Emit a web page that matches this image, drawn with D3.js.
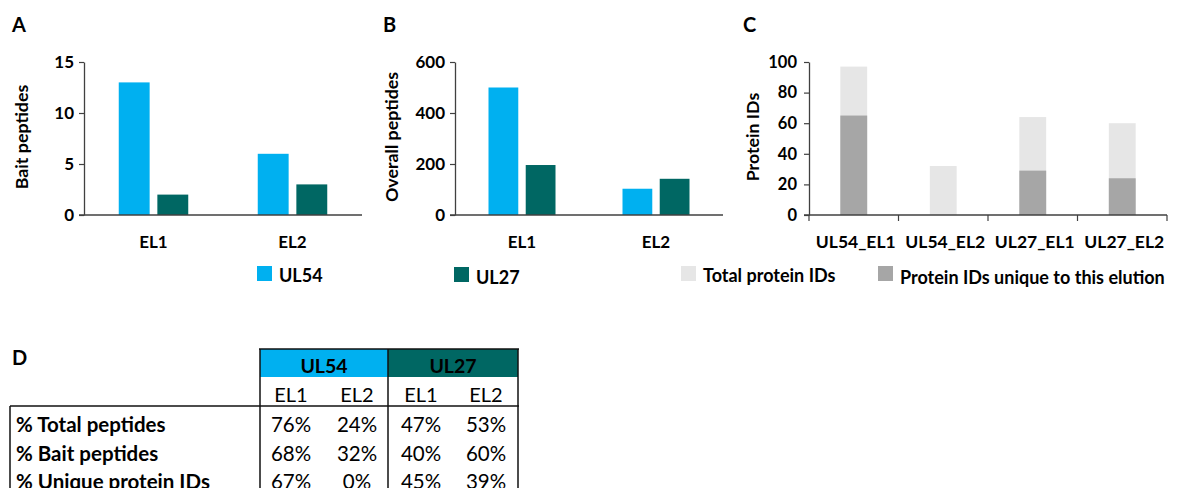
<!DOCTYPE html>
<html><head><meta charset="utf-8">
<script src="https://cdn.jsdelivr.net/npm/d3@7"></script>
<style>
html,body{margin:0;padding:0;background:#fff;}
svg text{font-family:Lato,"Open Sans",sans-serif;}
</style></head>
<body><svg id="chart" width="1178" height="488"></svg>
<script>
// ---- data ----
const elutions = ["EL1", "EL2"];
const baits = ["UL54", "UL27"];
const baitPeptidesUL54 = [13, 6];
const baitPeptidesUL27 = [2, 3];
const overallPeptidesUL54 = [500, 103];
const overallPeptidesUL27 = [196, 142];
const proteinCategories = ["UL54_EL1", "UL54_EL2", "UL27_EL1", "UL27_EL2"];
const totalProteinIDs = [97, 32, 64, 60];
const uniqueProteinIDs = [65, 0, 29, 24];
const ticksA = [0, 5, 10, 15];
const ticksB = [0, 200, 400, 600];
const ticksC = [0, 20, 40, 60, 80, 100];
const tableRows = ["% Total peptides", "% Bait peptides", "% Unique protein IDs"];
const tableUL54EL1 = ["76%", "68%", "67%"];
const tableUL54EL2 = ["24%", "32%", "0%"];
const tableUL27EL1 = ["47%", "40%", "45%"];
const tableUL27EL2 = ["53%", "60%", "39%"];

const colUL54 = "#00B0F0", colUL27 = "#006763";
const colTotal = "#E6E6E6", colUnique = "#A6A6A6";
const axisCol = "#404040";

const svg = d3.select("#chart");

function letter(x, y, t) {
  svg.append("text").attr("x", x).attr("y", y).text(t)
    .attr("font-size", 20).attr("font-weight", 700).attr("fill", "#000");
}

function yAxis(g, y, ticks, x0, fs, pad) {
  const ax = d3.axisLeft(y).tickValues(ticks).tickSize(5).tickSizeOuter(0).tickPadding(pad);
  const a = g.append("g").attr("transform", `translate(${x0},0)`).call(ax);
  a.select(".domain").attr("stroke", axisCol).attr("stroke-width", 1.3);
  a.selectAll(".tick line").attr("stroke", axisCol).attr("stroke-width", 1.2);
  a.selectAll(".tick text").attr("font-size", fs).attr("font-weight", 700)
    .attr("fill", "#000").style("font-family", "Lato,sans-serif");
  return a;
}

function ylabel(x, y, t) {
  svg.append("text").attr("transform", `translate(${x},${y}) rotate(-90)`)
    .attr("text-anchor", "middle").attr("dominant-baseline", "central")
    .attr("font-size", 17.8).attr("font-weight", 700).text(t);
}

function groupedPanel(cfg) {
  const g = svg.append("g");
  const y = d3.scaleLinear().domain(cfg.domain).range([215, 62]);
  const x0 = d3.scaleBand().domain(elutions).range([cfg.x0, cfg.x1])
    .paddingInner(0.5).paddingOuter(0.25);
  const x1 = d3.scaleBand().domain(baits).range([0, x0.bandwidth()]).paddingInner(0.2);
  const series = [cfg.a, cfg.b];
  const cols = [colUL54, colUL27];
  baits.forEach((b, si) => {
    g.selectAll(null).data(series[si]).enter().append("rect")
      .attr("x", (d, i) => x0(elutions[i]) + x1(b))
      .attr("width", x1.bandwidth())
      .attr("y", d => y(d))
      .attr("height", d => y(0) - y(d))
      .attr("fill", cols[si]);
  });
  yAxis(g, y, cfg.ticks, cfg.x0, 17, 5);
  g.append("line").attr("x1", cfg.x0 - 5).attr("x2", cfg.x1).attr("y1", y(0)).attr("y2", y(0))
    .attr("stroke", axisCol).attr("stroke-width", 1.3);
  g.selectAll(null).data(elutions).enter().append("text")
    .attr("x", d => x0(d) + x0.bandwidth() / 2).attr("y", 248)
    .attr("text-anchor", "middle").attr("font-size", 17).attr("font-weight", 700).text(d => d);
}

// Panel A
letter(12, 32, "A");
groupedPanel({x0: 84, x1: 362, domain: [0, 15], ticks: ticksA, a: baitPeptidesUL54, b: baitPeptidesUL27});
ylabel(21, 137, "Bait peptides");
// Panel B
letter(383, 32, "B");
groupedPanel({x0: 455, x1: 723, domain: [0, 600], ticks: ticksB, a: overallPeptidesUL54, b: overallPeptidesUL27});
ylabel(391, 137, "Overall peptides");

// Panel C
letter(743, 32, "C");
(function () {
  const g = svg.append("g");
  const y = d3.scaleLinear().domain([0, 100]).range([215, 62]);
  const x = d3.scaleBand().domain(proteinCategories).range([809, 1167])
    .paddingInner(0.7).paddingOuter(0.35);
  g.selectAll(null).data(totalProteinIDs).enter().append("rect")
    .attr("x", (d, i) => x(proteinCategories[i])).attr("width", x.bandwidth())
    .attr("y", d => y(d)).attr("height", d => y(0) - y(d)).attr("fill", colTotal);
  g.selectAll(null).data(uniqueProteinIDs).enter().append("rect")
    .attr("x", (d, i) => x(proteinCategories[i])).attr("width", x.bandwidth())
    .attr("y", d => y(d)).attr("height", d => y(0) - y(d)).attr("fill", colUnique);
  yAxis(g, y, ticksC, 809, 16.5, 7);
  g.append("line").attr("x1", 804).attr("x2", 1167).attr("y1", y(0)).attr("y2", y(0))
    .attr("stroke", axisCol).attr("stroke-width", 1.3);
  const step = x.step();
  const bounds = d3.range(proteinCategories.length + 1).map(i => 809 + i * step);
  g.selectAll(null).data(bounds).enter().append("line")
    .attr("x1", d => d).attr("x2", d => d).attr("y1", y(0)).attr("y2", y(0) + 6)
    .attr("stroke", axisCol).attr("stroke-width", 1.2);
  g.selectAll(null).data(proteinCategories).enter().append("text")
    .attr("x", d => x(d) + x.bandwidth() / 2 + 2).attr("y", 248)
    .attr("text-anchor", "middle").attr("font-size", 17.5).attr("font-weight", 700).text(d => d);
})();
ylabel(752, 137, "Protein IDs");

// Legends
function legendItem(x, y, col, t, ty) {
  svg.append("rect").attr("x", x).attr("y", y).attr("width", 15).attr("height", 15).attr("fill", col);
  svg.append("text").attr("x", x + 22).attr("y", ty).attr("font-size", 18).attr("font-weight", 700).text(t);
}
legendItem(257, 266, colUL54, baits[0], 282);
legendItem(454, 267, colUL27, baits[1], 284);
legendItem(681, 266, colTotal, "Total protein IDs", 282);
legendItem(878, 266, colUnique, "Protein IDs unique to this elution", 284);

// Panel D table
letter(12, 365, "D");
(function () {
  const t = svg.append("g");
  const colX = [260, 388, 518];
  t.append("rect").attr("x", 260).attr("y", 349).attr("width", 128).attr("height", 28).attr("fill", colUL54);
  t.append("rect").attr("x", 388).attr("y", 349).attr("width", 130).attr("height", 28).attr("fill", colUL27);
  t.append("text").attr("x", 324).attr("y", 373).attr("text-anchor", "middle")
    .attr("font-size", 19.5).attr("font-weight", 700).text(baits[0]);
  t.append("text").attr("x", 453).attr("y", 373).attr("text-anchor", "middle")
    .attr("font-size", 19.5).attr("font-weight", 700).text(baits[1]);
  const subX = [291, 357, 421, 486];
  const labels = [elutions[0], elutions[1], elutions[0], elutions[1]];
  t.selectAll(null).data(labels).enter().append("text")
    .attr("x", (d, i) => subX[i]).attr("y", 402).attr("text-anchor", "middle")
    .attr("font-size", 20).attr("font-weight", 400).text(d => d);
  const cols = [tableUL54EL1, tableUL54EL2, tableUL27EL1, tableUL27EL2];
  tableRows.forEach((r, ri) => {
    const yy = 432 + ri * 28.5;
    t.append("text").attr("x", 16).attr("y", yy).attr("font-size", 20.5).attr("font-weight", 700).text(r);
    cols.forEach((c, ci) => {
      t.append("text").attr("x", subX[ci]).attr("y", yy).attr("text-anchor", "middle")
        .attr("font-size", 20.5).attr("font-weight", 400).text(c[ri]);
    });
  });
  const lc = "#111";
  t.append("line").attr("x1", 259).attr("x2", 519).attr("y1", 349).attr("y2", 349).attr("stroke", lc).attr("stroke-width", 1.5);
  t.append("line").attr("x1", 10).attr("x2", 519).attr("y1", 406).attr("y2", 406).attr("stroke", lc).attr("stroke-width", 1.5);
  colX.forEach(cx => t.append("line").attr("x1", cx).attr("x2", cx).attr("y1", 349).attr("y2", 490).attr("stroke", lc).attr("stroke-width", 1.5));
  t.append("line").attr("x1", 10).attr("x2", 10).attr("y1", 406).attr("y2", 490).attr("stroke", lc).attr("stroke-width", 1.5);
})();
</script></body></html>
